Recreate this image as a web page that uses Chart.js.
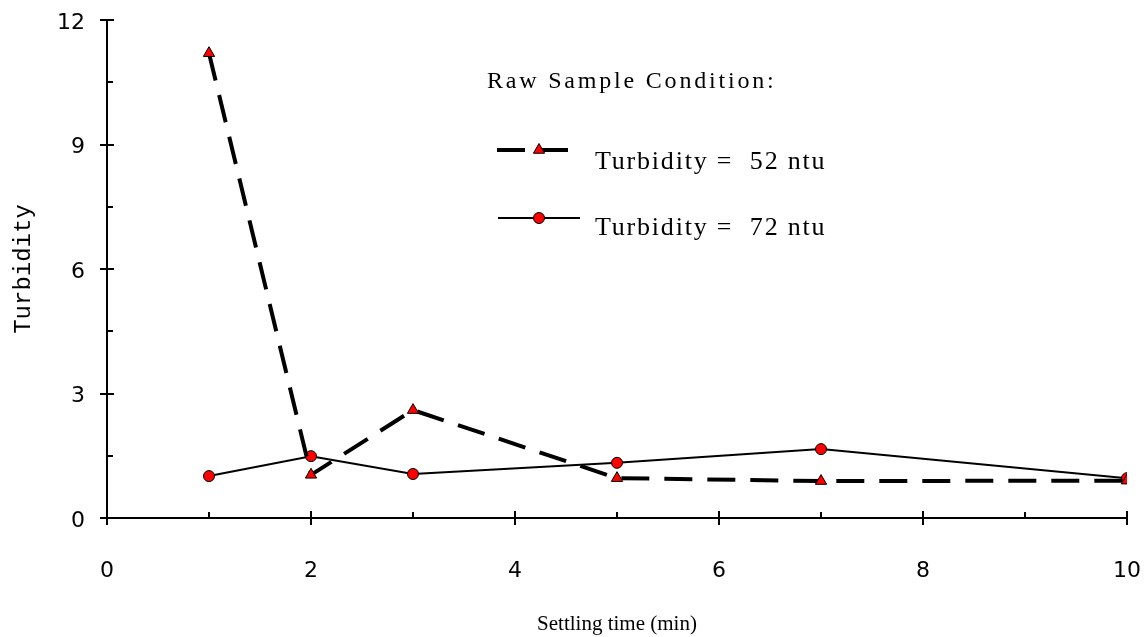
<!DOCTYPE html>
<html>
<head>
<meta charset="utf-8">
<script src="https://cdn.jsdelivr.net/npm/chart.js@4.4.1/dist/chart.umd.min.js"></script>
<style>
  html, body { margin: 0; padding: 0; background: #fff; }
  #wrap { width: 1148px; height: 637px; }
</style>
</head>
<body>
<div id="wrap"><canvas id="lineChart"></canvas></div>
<script>
// settling time (min)
const settlingTime = [1, 2, 3, 5, 7, 10];
// turbidity readings for the two raw samples
const turb52 = [11.2, 1.04, 2.6, 0.96, 0.89, 0.9];
const turb72 = [1.01, 1.49, 1.06, 1.33, 1.66, 0.96];
const seriesNames = ['Turbidity =  52 ntu', 'Turbidity =  72 ntu'];
const legendTitle = 'Raw Sample Condition:';
const yMajor = [0, 3, 6, 9, 12];
const yMinor = [1.5, 4.5, 7.5, 10.5];
const xMajor = [0, 2, 4, 6, 8, 10];
const xMinor = [1, 3, 5, 7, 9];

function pts(xs, ys) {
    return xs.map((x, i) => ({ x: x, y: ys[i] }));
}

// tick marks that cross the axes (major) or sit inside (minor)
const axisTicks = {
    id: 'axisTicks',
    afterDraw(chart) {
        const ctx = chart.ctx;
        const xs = chart.scales.x, ys = chart.scales.y;
        const left = chart.chartArea.left, bottom = chart.chartArea.bottom;
        ctx.save();
        ctx.strokeStyle = '#000';
        ctx.lineWidth = 2;
        ctx.beginPath();
        yMajor.forEach(v => {
            const y = Math.round(ys.getPixelForValue(v));
            ctx.moveTo(left - 7, y); ctx.lineTo(left + 7, y);
        });
        yMinor.forEach(v => {
            const y = Math.round(ys.getPixelForValue(v));
            ctx.moveTo(left, y); ctx.lineTo(left + 6, y);
        });
        xMajor.forEach(v => {
            const x = Math.round(xs.getPixelForValue(v));
            ctx.moveTo(x, bottom - 7); ctx.lineTo(x, bottom + 7);
        });
        xMinor.forEach(v => {
            const x = Math.round(xs.getPixelForValue(v));
            ctx.moveTo(x, bottom - 6); ctx.lineTo(x, bottom);
        });
        ctx.stroke();
        ctx.restore();
    }
};

// legend box drawn inside the plot
const sampleLegend = {
    id: 'sampleLegend',
    afterDraw(chart) {
        const ctx = chart.ctx;
        ctx.save();
        ctx.fillStyle = '#000';
        ctx.textBaseline = 'alphabetic';
        ctx.font = '24px "Liberation Serif"';
        ctx.letterSpacing = '2.8px';
        ctx.fillText(legendTitle, 487, 88);

        const rows = [{ y: 150, textY: 169, x0: 497, x1: 570 }, { y: 218, textY: 235, x0: 498, x1: 580 }];
        chart.data.datasets.forEach((ds, i) => {
            const r = rows[i];
            ctx.beginPath();
            ctx.strokeStyle = ds.borderColor;
            ctx.lineWidth = ds.borderWidth;
            ctx.setLineDash(ds.borderDash || []);
            ctx.moveTo(r.x0, r.y); ctx.lineTo(r.x1, r.y);
            ctx.stroke();
            ctx.setLineDash([]);
            ctx.fillStyle = ds.pointBackgroundColor;
            ctx.strokeStyle = ds.pointBorderColor;
            ctx.lineWidth = 1;
            Chart.helpers.drawPoint(ctx, { pointStyle: ds.pointStyle, radius: ds.pointRadius, borderWidth: 1 }, 539, r.y);
            ctx.fillStyle = '#000';
            ctx.font = '26px "Liberation Serif"';
            ctx.letterSpacing = '1.8px';
            ctx.fillText(ds.label, 595, r.textY);
        });
        ctx.restore();
    }
};

const ctx = document.getElementById('lineChart').getContext('2d');
new Chart(ctx, {
    type: 'line',
    data: {
        datasets: [{
            label: seriesNames[0],
            data: pts(settlingTime, turb52),
            borderColor: '#000',
            borderWidth: 4,
            borderDash: [28, 15],
            pointStyle: 'triangle',
            pointRadius: 6.5,
            pointBackgroundColor: '#ff0000',
            pointBorderColor: '#000',
            pointBorderWidth: 1,
            tension: 0,
            fill: false
        }, {
            label: seriesNames[1],
            data: pts(settlingTime, turb72),
            borderColor: '#000',
            borderWidth: 2,
            pointStyle: 'circle',
            pointRadius: 5.5,
            pointBackgroundColor: '#ff0000',
            pointBorderColor: '#000',
            pointBorderWidth: 1,
            tension: 0,
            fill: false
        }]
    },
    options: {
        responsive: true,
        maintainAspectRatio: false,
        animation: false,
        layout: { padding: { top: 20, right: 21, left: 0, bottom: 0 } },
        plugins: {
            legend: { display: false },
            tooltip: { enabled: false }
        },
        scales: {
            x: {
                type: 'linear',
                min: 0, max: 10,
                grid: { display: false, drawTicks: false },
                border: { display: true, color: '#000', width: 2 },
                ticks: {
                    stepSize: 2,
                    color: '#000',
                    padding: 40,
                    maxRotation: 0,
                    font: { family: '"DejaVu Sans"', size: 22 }
                },
                title: {
                    display: true,
                    text: 'Settling time (min)',
                    color: '#000',
                    padding: 0,
                    font: { family: '"Liberation Serif"', size: 21 }
                },
                afterFit(scale) {
                    scale.height = 119;
                    scale.paddingLeft = 0; scale.paddingRight = 0;
                }
            },
            y: {
                min: 0, max: 12,
                grid: { display: false, drawTicks: false },
                border: { display: true, color: '#000', width: 2 },
                ticks: {
                    stepSize: 3,
                    color: '#000',
                    padding: 22,
                    labelOffset: 3,
                    font: { family: '"DejaVu Sans"', size: 22 }
                },
                title: {
                    display: true,
                    text: 'Turbidity',
                    color: '#000',
                    padding: { top: 9, bottom: 0 },
                    font: { family: '"Liberation Mono"', size: 24 }
                },
                afterFit(scale) {
                    scale.width = 107;
                    scale.paddingTop = 0; scale.paddingBottom = 0;
                }
            }
        }
    },
    plugins: [axisTicks, sampleLegend]
});
</script>
</body>
</html>
